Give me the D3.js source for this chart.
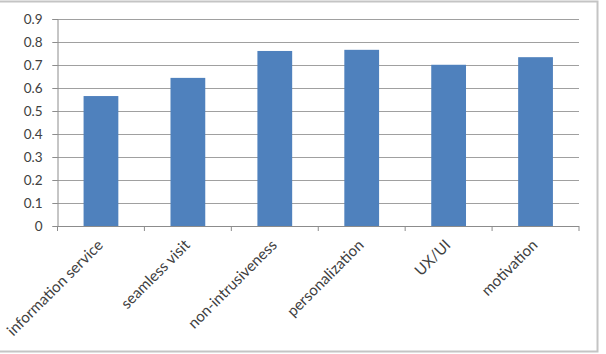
<!DOCTYPE html>
<html>
<head>
<meta charset="utf-8">
<script src="https://cdn.jsdelivr.net/npm/d3@7"></script>
<style>
  body { margin: 0; background: #fff; }
  svg text { font-family: Lato, "Open Sans", sans-serif; fill: #404040; }
</style>
</head>
<body>
<script>
// categories and scores
var categories = ["information service", "seamless visit", "non-intrusiveness",
                  "personalization", "UX/UI", "motivation"];
var scores = [0.565, 0.644, 0.761, 0.766, 0.701, 0.734];
var yTicks = [0, 0.1, 0.2, 0.3, 0.4, 0.5, 0.6, 0.7, 0.8, 0.9];
var yTickLabels = ["0", "0.1", "0.2", "0.3", "0.4", "0.5", "0.6", "0.7", "0.8", "0.9"];

// Set the dimensions of the canvas / graph
var margin = {top: 19, right: 27, bottom: 128, left: 57.5},
    width = 606 - margin.left - margin.right,
    height = 354 - margin.top - margin.bottom;

var svg = d3.select("body")
    .append("svg")
        .attr("width", 606)
        .attr("height", 354);

// outer chart border
svg.append("rect")
    .attr("x", -2)
    .attr("y", 1.5)
    .attr("width", 599.5)
    .attr("height", 350)
    .attr("fill", "none")
    .attr("stroke", "#c4c4c4")
    .attr("stroke-width", 2);

var g = svg.append("g")
    .attr("transform", "translate(" + margin.left + "," + margin.top + ")");

// Set the ranges
var x = d3.scaleBand()
    .domain(categories)
    .range([0, width])
    .paddingInner(0.6)
    .paddingOuter(0.3);

var y = d3.scaleLinear().domain([0, 0.9]).range([height, 0]);

// gridlines
g.append("g")
    .selectAll("line")
    .data(yTicks.slice(1))
    .enter().append("line")
        .attr("x1", -5)
        .attr("x2", width)
        .attr("y1", function(d) { return Math.round(y(d)) + 0.5; })
        .attr("y2", function(d) { return Math.round(y(d)) + 0.5; })
        .attr("stroke", "#a0a0a0");

// bars
g.selectAll(".bar")
    .data(scores)
    .enter().append("rect")
        .attr("class", "bar")
        .attr("x", function(d, i) { return x(categories[i]); })
        .attr("width", x.bandwidth())
        .attr("y", function(d) { return y(d); })
        .attr("height", function(d) { return height - y(d); })
        .attr("fill", "#4f81bd");

// Y axis
var yAxis = d3.axisLeft(y)
    .tickValues(yTicks)
    .tickSize(5)
    .tickPadding(10)
    .tickFormat(function(d, i) { return yTickLabels[i]; });

var yG = g.append("g").call(yAxis);
yG.select(".domain").attr("stroke", "#8c8c8c");
yG.selectAll(".tick line").attr("stroke", "#8c8c8c");
yG.selectAll(".tick text")
    .style("font-size", "13.5px")
    .attr("fill", "#404040");

// X axis line and boundary ticks
var step = x.step();
var xG = g.append("g").attr("transform", "translate(0," + height + ")");
xG.append("line")
    .attr("x1", 0).attr("x2", width)
    .attr("y1", 0.5).attr("y2", 0.5)
    .attr("stroke", "#8c8c8c");
xG.selectAll(".btick")
    .data(d3.range(categories.length + 1))
    .enter().append("line")
        .attr("x1", function(i) { return i * step; })
        .attr("x2", function(i) { return i * step; })
        .attr("y1", 0).attr("y2", 5)
        .attr("stroke", "#8c8c8c");

// rotated category labels
xG.selectAll(".xlabel")
    .data(categories)
    .enter().append("text")
        .attr("text-anchor", "end")
        .attr("transform", function(d) {
            return "translate(" + (x(d) + x.bandwidth() / 2 + 3) + ",20) rotate(-45)";
        })
        .style("font-size", "15.2px")
        .text(function(d) { return d; });
</script>
</body>
</html>
